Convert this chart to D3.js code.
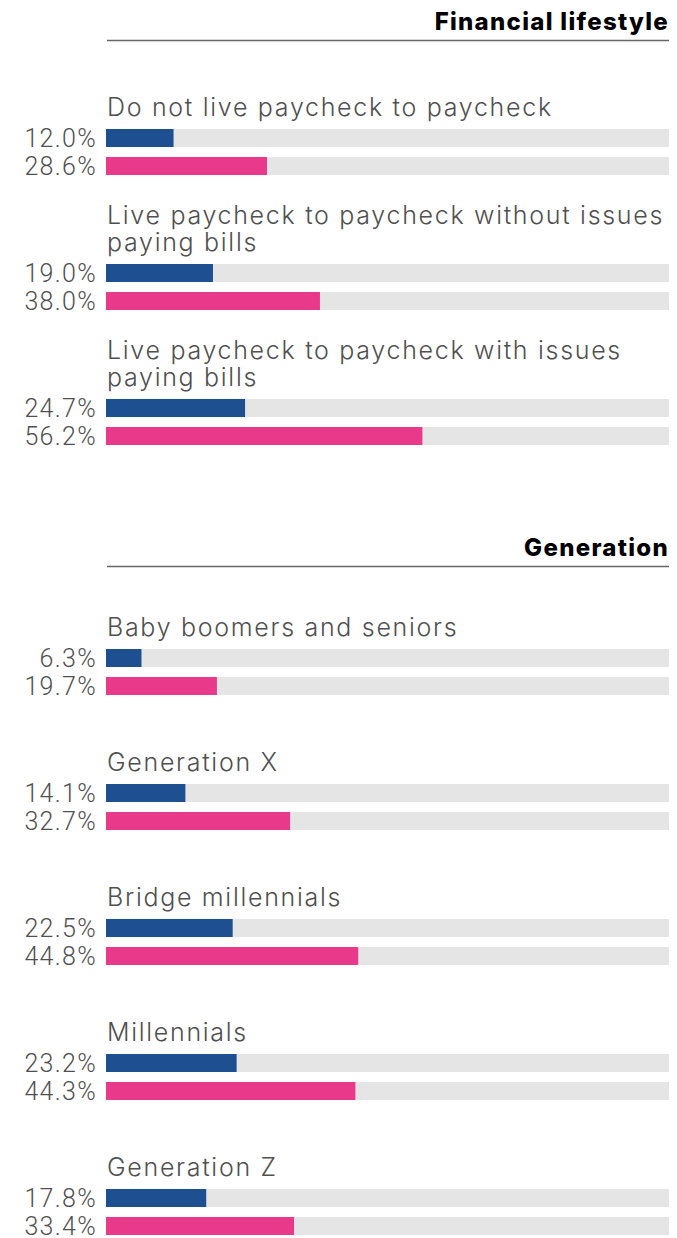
<!DOCTYPE html>
<html>
<head>
<meta charset="utf-8">
<script src="https://cdn.jsdelivr.net/npm/d3@7/dist/d3.min.js"></script>
<style>
  html, body { margin: 0; padding: 0; background: #ffffff; }
  svg { display: block; }
</style>
</head>
<body>
<script>
// Section headings
const sectionTitles = ["Financial lifestyle", "Generation"];

// Financial lifestyle section
const lifestyleCategories = [
  "Do not live paycheck to paycheck",
  "Live paycheck to paycheck without issues paying bills",
  "Live paycheck to paycheck with issues paying bills"
];
const lifestyleBlue = [12.0, 19.0, 24.7];
const lifestylePink = [28.6, 38.0, 56.2];

// Generation section
const generationCategories = [
  "Baby boomers and seniors",
  "Generation X",
  "Bridge millennials",
  "Millennials",
  "Generation Z"
];
const generationBlue = [6.3, 14.1, 22.5, 23.2, 17.8];
const generationPink = [19.7, 32.7, 44.8, 44.3, 33.4];

const W = 677, H = 1238;
const COLORS = { blue: "#1d4f91", pink: "#e8398a", track: "#e5e5e5", text: "#505050" };

const svg = d3.select("body").append("svg")
  .attr("width", W).attr("height", H);

const x = d3.scaleLinear().domain([0, 100]).range([106, 669]);
const fmt = d3.format(".1f");

const sections = [
  { title: sectionTitles[0], cats: lifestyleCategories, blue: lifestyleBlue, pink: lifestylePink, rule: 40, firstBar: 129 },
  { title: sectionTitles[1], cats: generationCategories, blue: generationBlue, pink: generationPink, rule: 566, firstBar: 649 }
];

const GROUP_STEP = 135, BAR_H = 18, BAR_GAP = 10, LINE_H = 27;
const LABEL = { family: "Inter, 'Open Sans', sans-serif", size: 25, weight: 300, spacing: "1.7px" };
const PCT = { family: "Roboto, sans-serif", size: 25, weight: 300, spacing: "1.3px" };

// measure helper for wrapping category labels
const measurer = svg.append("text")
  .attr("font-family", LABEL.family).attr("font-size", LABEL.size).attr("font-weight", LABEL.weight)
  .attr("letter-spacing", LABEL.spacing).attr("visibility", "hidden");
function wrap(str, maxW) {
  const words = str.split(" ");
  const lines = [];
  let cur = "";
  words.forEach(w => {
    const test = cur ? cur + " " + w : w;
    measurer.text(test);
    if (measurer.node().getComputedTextLength() > maxW && cur) {
      lines.push(cur); cur = w;
    } else cur = test;
  });
  if (cur) lines.push(cur);
  return lines;
}

sections.forEach(sec => {
  const g = svg.append("g");

  g.append("text")
    .attr("x", x.range()[1]).attr("y", sec.rule - 10)
    .attr("text-anchor", "end")
    .attr("font-family", "Inter, sans-serif")
    .attr("font-weight", 800).attr("font-size", 24)
    .attr("letter-spacing", "1.3px")
    .attr("fill", "#000")
    .text(sec.title);

  g.append("line")
    .attr("x1", x(0) + 1).attr("x2", x.range()[1])
    .attr("y1", sec.rule + 0.5).attr("y2", sec.rule + 0.5)
    .attr("stroke", "#666").attr("stroke-width", 1.3);

  const rows = sec.cats.map((c, i) => ({ cat: c, blue: sec.blue[i], pink: sec.pink[i], top: sec.firstBar + i * GROUP_STEP }));

  const grp = g.selectAll("g.row").data(rows).join("g").attr("class", "row");

  // category label, wrapped to the track width
  grp.each(function(d) {
    const lines = wrap(d.cat, x.range()[1] - x(0) + 2);
    const t = d3.select(this).append("text")
      .attr("font-family", LABEL.family).attr("font-size", LABEL.size).attr("font-weight", LABEL.weight)
      .attr("letter-spacing", LABEL.spacing)
      .attr("fill", COLORS.text);
    lines.forEach((ln, k) => {
      t.append("tspan")
        .attr("x", x(0) + 1)
        .attr("y", d.top - 13 - (lines.length - 1 - k) * LINE_H)
        .text(ln);
    });
  });

  const bars = [
    { key: "blue", dy: 0 },
    { key: "pink", dy: BAR_H + BAR_GAP }
  ];

  bars.forEach(b => {
    // background track
    grp.append("rect")
      .attr("x", x(0)).attr("y", d => d.top + b.dy)
      .attr("width", x(100) - x(0)).attr("height", BAR_H)
      .attr("fill", COLORS.track);
    // value bar
    grp.append("rect")
      .attr("x", x(0)).attr("y", d => d.top + b.dy)
      .attr("width", d => x(d[b.key]) - x(0)).attr("height", BAR_H)
      .attr("fill", COLORS[b.key]);
    // value label
    grp.append("text")
      .attr("x", x(0) - 9).attr("y", d => d.top + b.dy + BAR_H / 2)
      .attr("dy", "0.35em")
      .attr("text-anchor", "end")
      .attr("font-family", PCT.family).attr("font-size", PCT.size).attr("font-weight", PCT.weight)
      .attr("letter-spacing", PCT.spacing)
      .attr("fill", COLORS.text)
      .text(d => fmt(d[b.key]) + "%");
  });
});
measurer.remove();
</script>
</body>
</html>
